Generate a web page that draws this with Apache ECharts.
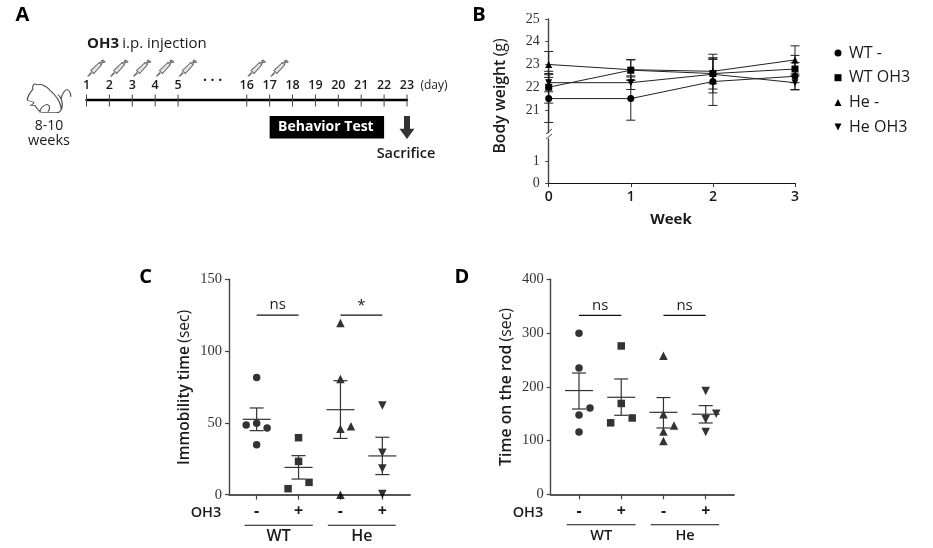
<!DOCTYPE html>
<html><head><meta charset="utf-8">
<style>html,body{margin:0;padding:0;background:#fff}#c{width:933px;height:548px}</style>
<script src="https://cdn.jsdelivr.net/npm/echarts@6/dist/echarts.min.js"></script>
</head><body><div id="c"></div>
<script>
// ---------- Panel A ----------
const dayLabels = ['1','2','3','4','5','','','16','17','18','19','20','21','22','23'];
const injectionDays = ['1','2','3','4','5','16','17'];
const behaviorSpan = ['17','22'];
const sacrificeDay = '23';
// ---------- Panel B ----------
const weeks = [0,1,2,3];
const wtMinusW = [21.5,21.5,22.25,22.48];
const wtOh3W = [22,22.75,22.6,22.8];
const heMinusW = [23,22.77,22.7,23.2];
const heOh3W = [22.2,22.2,22.57,22.2];
const wtMinusErr = [1.05,0.95,1.05,0.6];
const wtOh3Err = [0.7,0.45,0.85,0.6];
const heMinusErr = [0.57,0.45,0.55,0.62];
const heOh3Err = [0.4,0.3,0.65,0.3];
const seriesNames = ['WT -','WT OH3','He -','He OH3'];
// ---------- Panel C ----------
const groupPos = [1,2,3,4];
const signs = ['-','+','-','+'];
const cWtMinus = [81.7,48.5,49.7,46.4,34.8], cWtMinusJ = [0,-0.25,0,0.25,0];
const cWtPlus = [39.7,23.2,8.6,4.2], cWtPlusJ = [0,0,0.25,-0.25];
const cHeMinus = [119.6,80.6,46,47.6,0], cHeMinusJ = [0,0,0,0.25,0];
const cHePlus = [62.2,29.3,18.3,0.5], cHePlusJ = [0,0,0,0];
const cMean = [52.5,19,59.2,27], cTop = [60.4,27.2,79.4,40], cBot = [44.6,10.9,39.2,14];
const cSig = [{from:1,to:2,y:125,text:'ns'},{from:3,to:4,y:125,text:'*'}];
// ---------- Panel D ----------
const dWtMinus = [299.5,235,160.6,147.6,116], dWtMinusJ = [0,0,0.26,0,0];
const dWtPlus = [276,169,142,133], dWtPlusJ = [0,0,0.26,-0.25];
const dHeMinus = [258,149,127.8,117,99], dHeMinusJ = [0,0,0.25,0,0];
const dHePlus = [192,139.5,150,116], dHePlusJ = [0,0,0.25,0];
const dMean = [193,180.5,152.5,149], dTop = [225.7,214.6,180,165], dBot = [158.7,147,123.4,132.7];
const dSig = [{from:1,to:2,y:333,text:'ns'},{from:3,to:4,y:333,text:'ns'}];
const genotypes = [{from:0.71,to:2.34,text:'WT'},{from:2.70,to:4.32,text:'He'}];

const SANS = '"Open Sans","Noto Sans",sans-serif';
const SERIF = '"Liberation Serif",serif';
const DARK = '#1a1a1a', AXIS = '#444';
const DOWN = 'path://M0,0L10,0L5,10Z';
const SYRINGE = 'path://M0,100L17,80L20,83L3,100ZM16,66L60,22L66,16L70,20L84,8L80,4L88,0L100,12L92,16L88,12L76,26L80,30L34,84Z';
const ARROW = 'path://M30,0L70,0L70,55L100,55L50,100L0,55L30,55Z';
const MOUSE = 'path://M27.5,100C29,95 31,93 33,91C32,87 35,85 37,87C41,86 46,88 50,92C56,97 60,102 61,108C61.5,111 59,113 55,112.5L42,112.5C39,112 37,109 35,106L31,106C33,105 34,104 34,103L28,101.5ZM40,112.5C40,109 43,106 47,105C50,106 50,109 48,112M61,100C62,94 66,90 68,92C70,93 70.5,95 70.5,98M58,96C64,102 63,110 58,113';

function pts(x, ys, js){ return ys.map((v,i)=>[x+js[i], v]); }
function scatter(idx, x, ys, js, symbol, rot, size){
  return {type:'scatter', xAxisIndex:idx, yAxisIndex:idx, data:pts(x,ys,js), symbol, symbolRotate:rot, symbolSize:size,
    itemStyle:{color:'#000'}, z:3, silent:true, clip:false};
}
function line(x1,y1,x2,y2,w,c){ return {type:'line', shape:{x1,y1,x2,y2}, style:{stroke:c||DARK, lineWidth:w||1}}; }

// mean ± SEM marks
function meanErr(idx, mean, top, bot){
  return {type:'custom', xAxisIndex:idx, yAxisIndex:idx, silent:true, z:4, clip:false,
    data: groupPos.map((p,i)=>[p,mean[i],top[i],bot[i]]),
    renderItem(params, api){
      const x=api.value(0);
      const m=api.coord([x,api.value(1)]), t=api.coord([x,api.value(2)]), b=api.coord([x,api.value(3)]);
      const col='#333';
      return {type:'group', children:[
        line(m[0]-14,m[1],m[0]+14,m[1],1.2,col), line(t[0],t[1],b[0],b[1],1.2,col),
        line(t[0]-7,t[1],t[0]+7,t[1],1.2,col), line(b[0]-7,b[1],b[0]+7,b[1],1.2,col)
      ]};
    }};
}
// significance brackets
function sigMarks(idx, sig){
  return {type:'custom', xAxisIndex:idx, yAxisIndex:idx, silent:true, z:4, clip:false,
    data: sig.map(s=>[s.from,s.to,s.y]),
    renderItem(params, api){
      const s=sig[params.dataIndex];
      const a=api.coord([s.from,s.y]), b=api.coord([s.to,s.y]);
      return {type:'group', children:[
        line(a[0],a[1],b[0],b[1],1.2,'#111'),
        {type:'text', x:(a[0]+b[0])/2, y:a[1]-(s.text==='*'?9:10), style:{text:s.text, font:'15px '+SANS, fill:'#222', align:'center', verticalAlign:'middle'}}
      ]};
    }};
}
// genotype underlines below the axis
function genoMarks(idx, labelSize){
  return {type:'custom', xAxisIndex:idx, yAxisIndex:idx, silent:true, z:4, clip:false,
    data: genotypes.map(g=>[g.from,g.to]),
    renderItem(params, api){
      const g=genotypes[params.dataIndex];
      const a=api.coord([g.from,0]), b=api.coord([g.to,0]);
      return {type:'group', children:[
        line(a[0],a[1]+30.5,b[0],b[1]+30.5,1.1,'#111'),
        {type:'text', x:(a[0]+b[0])/2, y:a[1]+42, style:{text:g.text, font:'600 '+labelSize+'px '+SANS, fill:DARK, align:'center', verticalAlign:'middle'}}
      ]};
    }};
}
// error bars for panel B
function weekErr(vals, errs){
  return {type:'custom', xAxisIndex:1, yAxisIndex:1, silent:true, z:2, clip:false,
    data: weeks.map((w,i)=>[w,vals[i],errs[i]]),
    renderItem(params, api){
      const x=api.value(0), v=api.value(1), e=api.value(2);
      const t=api.coord([x,v+e]), b=api.coord([x,v-e]);
      return {type:'group', children:[
        line(t[0],t[1],b[0],b[1],1,'#222'),
        line(t[0]-4.5,t[1],t[0]+4.5,t[1],1,'#222'), line(b[0]-4.5,b[1],b[0]+4.5,b[1],1,'#222')
      ]};
    }};
}
function weekLine(name, vals, symbol, rot, size){
  return {type:'line', name, xAxisIndex:1, yAxisIndex:1, data:weeks.map((w,i)=>[w,vals[i]]), symbol, symbolRotate:rot, symbolSize:size,
    showSymbol:true, lineStyle:{color:'#222', width:1}, itemStyle:{color:'#000'}, silent:true, z:3, clip:false};
}
function valueAxisStyle(){ return {
  axisLine:{show:true, lineStyle:{color:AXIS, width:1.4}},
  axisTick:{show:true, length:4, lineStyle:{color:AXIS, width:1.2}},
  axisLabel:{color:'#333', fontFamily:SERIF, fontSize:14.5, margin:7},
  splitLine:{show:false}
};}
function bAxisTicks(vals){ return {
  axisTick:{show:true,length:3.5,customValues:vals,lineStyle:{color:AXIS}},
  axisLabel:{customValues:vals,color:'#333',fontFamily:SERIF,fontSize:14,margin:9}
};}
function groupXAxis(gridIndex, min, max){ return {
  type:'value', gridIndex, min, max,
  axisLine:{show:true, onZero:true, lineStyle:{color:'#555', width:1.8}},
  axisTick:{show:true, length:5, customValues:groupPos, lineStyle:{color:AXIS, width:1.2}},
  axisLabel:{show:true, customValues:groupPos, formatter:v=>signs[Math.round(v)-1], color:DARK, fontFamily:SANS, fontSize:16, fontWeight:700, margin:9},
  splitLine:{show:false}
};}

function txt(x,y,text,opt){ return {type:'text', x, y, silent:true, rotation:(opt&&opt.rot)||0,
  style:Object.assign({text, fontFamily:SANS, fontSize:14, fill:DARK, align:'center', verticalAlign:'middle'}, opt&&opt.style)}; }
function vtitle(x,y,bold,rest,size){ return {type:'text', x, y, silent:true, rotation:Math.PI/2,
  style:{text:'{b|'+bold+'} {r|'+rest+'}', align:'center', verticalAlign:'middle',
    rich:{b:{fontFamily:SANS,fontSize:size,fontWeight:600,fill:DARK}, r:{fontFamily:SANS,fontSize:size,fill:DARK}}}}; }

const option = {
  animation:false,
  backgroundColor:'#fff',
  legend:{
    left:829.5, top:40, orient:'vertical', itemGap:8.7, itemWidth:7, itemHeight:7, selectedMode:false,
    textStyle:{fontFamily:SANS, fontSize:16, fontWeight:500, color:DARK, padding:[0,0,0,2.5]},
    data:[{name:seriesNames[0],icon:'circle'},{name:seriesNames[1],icon:'rect'},{name:seriesNames[2],icon:'triangle'},{name:seriesNames[3],icon:DOWN}]
  },
  grid:[
    {left:86.5, width:320.5, top:100, height:1},                         // A
    {left:548.7, width:246.3, top:19, height:113.7},                     // B upper
    {left:548.7, width:246.3, top:139, height:44},                       // B lower
    {left:229, width:181, top:279.3, height:215.4},                      // C
    {left:550.7, width:183.3, top:279.3, height:215}                     // D
  ],
  xAxis:[
    {type:'category', gridIndex:0, data:dayLabels, boundaryGap:false, position:'top',
      axisLine:{onZero:false, lineStyle:{color:'#000', width:2.4}}, axisTick:{show:false},
      axisLabel:{interval:0, color:DARK, fontFamily:SANS, fontSize:12.5, fontWeight:600, margin:8}},
    {type:'value', gridIndex:1, min:0, max:3, show:false},
    {type:'value', gridIndex:2, min:0, max:3, interval:1,
      axisLine:{lineStyle:{color:'#111', width:1.2}}, axisTick:{length:4, lineStyle:{color:'#333'}},
      axisLabel:{color:DARK, fontFamily:SANS, fontSize:14, fontWeight:600, margin:7}, splitLine:{show:false}},
    groupXAxis(3,0.34,4.66),
    groupXAxis(4,0.33,4.67)
  ],
  yAxis:[
    {type:'value', gridIndex:0, min:0, max:1, show:false},
    Object.assign(valueAxisStyle(), {type:'value', gridIndex:1, min:20, max:25}, bAxisTicks([21,22,23,24,25])),
    Object.assign(valueAxisStyle(), {type:'value', gridIndex:2, min:0, max:2}, bAxisTicks([0,1])),
    Object.assign(valueAxisStyle(), {type:'value', gridIndex:3, min:0, max:150, interval:50}),
    Object.assign(valueAxisStyle(), {type:'value', gridIndex:4, min:0, max:400, interval:100})
  ],
  series:[
    // A: mouse
    {type:'scatter', xAxisIndex:0, yAxisIndex:0, data:[[dayLabels[0],0.5]], symbol:MOUSE, symbolSize:[43.5,29], symbolOffset:[-37.5,-2],
      itemStyle:{color:'rgba(0,0,0,0)', borderColor:'#222', borderWidth:1}, silent:true, clip:false},
    // A: ticks
    {type:'custom', xAxisIndex:0, yAxisIndex:0, silent:true, z:3, clip:false,
      data:dayLabels.map((d,i)=>[i,0.5]).filter((p,i)=>dayLabels[i]!==''),
      renderItem(params, api){ const c=api.coord([api.value(0),api.value(1)]);
        return line(c[0],c[1]-6,c[0],c[1]+6,1,'#444'); }},
    // A: injections
    {type:'scatter', xAxisIndex:0, yAxisIndex:0, data:injectionDays.map(d=>[d,0.5]), symbol:SYRINGE, symbolSize:[17,16], symbolOffset:[10,-32.5],
      itemStyle:{color:'#ddd', borderColor:'#444', borderWidth:1}, silent:true, clip:false},
    // A: behaviour bar
    {type:'custom', xAxisIndex:0, yAxisIndex:0, silent:true, z:3, clip:false,
      data:[[dayLabels.indexOf(behaviorSpan[0]), dayLabels.indexOf(behaviorSpan[1])]],
      renderItem(params, api){ const a=api.coord([api.value(0),0.5]), b=api.coord([api.value(1),0.5]);
        return {type:'group', children:[
          {type:'rect', shape:{x:a[0],y:a[1]+15.5,width:b[0]-a[0],height:22.5}, style:{fill:'#000'}},
          {type:'text', x:(a[0]+b[0])/2-1, y:a[1]+27, style:{text:'Behavior Test', font:'700 14px '+SANS, fill:'#fff', align:'center', verticalAlign:'middle'}}
        ]}; }},
    // A: sacrifice arrow
    {type:'scatter', xAxisIndex:0, yAxisIndex:0, data:[[sacrificeDay,0.5]], symbol:ARROW, symbolSize:[15,23], symbolOffset:[0,27], itemStyle:{color:'#000'}, silent:true, clip:false},
    // B
    weekErr(wtMinusW,wtMinusErr), weekErr(wtOh3W,wtOh3Err), weekErr(heMinusW,heMinusErr), weekErr(heOh3W,heOh3Err),
    weekLine(seriesNames[0],wtMinusW,'circle',0,7),
    weekLine(seriesNames[1],wtOh3W,'rect',0,7),
    weekLine(seriesNames[2],heMinusW,'triangle',0,7),
    weekLine(seriesNames[3],heOh3W,'triangle',180,7),
    // C
    scatter(3,1,cWtMinus,cWtMinusJ,'circle',0,7.5),
    scatter(3,2,cWtPlus,cWtPlusJ,'rect',0,7.5),
    scatter(3,3,cHeMinus,cHeMinusJ,'triangle',0,8.5),
    scatter(3,4,cHePlus,cHePlusJ,'triangle',180,8.5),
    meanErr(3,cMean,cTop,cBot), sigMarks(3,cSig), genoMarks(3,16),
    // D
    scatter(4,1,dWtMinus,dWtMinusJ,'circle',0,7.5),
    scatter(4,2,dWtPlus,dWtPlusJ,'rect',0,7.5),
    scatter(4,3,dHeMinus,dHeMinusJ,'triangle',0,8.5),
    scatter(4,4,dHePlus,dHePlusJ,'triangle',180,8.5),
    meanErr(4,dMean,dTop,dBot), sigMarks(4,dSig), genoMarks(4,14.5)
  ],
  graphic:[
    txt(22.5,15,'A',{style:{fontSize:20,fontWeight:700,fill:'#000'}}),
    txt(479,15,'B',{style:{fontSize:20,fontWeight:700,fill:'#000'}}),
    txt(145.5,277,'C',{style:{fontSize:20,fontWeight:700,fill:'#000'}}),
    txt(462,277,'D',{style:{fontSize:20,fontWeight:700,fill:'#000'}}),
    {type:'text', x:87, y:44, silent:true, style:{text:'{b|OH3} {r|i.p. injection}', align:'left', verticalAlign:'middle',
      rich:{b:{fontFamily:SANS,fontSize:15,fontWeight:700,fill:DARK}, r:{fontFamily:SANS,fontSize:15,fill:DARK}}}},
    txt(212.5,81,'· · ·',{style:{fontSize:14,fontWeight:700}}),
    txt(434,86,'(day)',{style:{fontSize:12}}),
    txt(49,126,'8-10'),txt(49,141,'weeks',{style:{fontSize:14.5}}),
    txt(406,154,'Sacrifice',{style:{fontSize:14.5,fontWeight:600}}),
    // axis break on panel B
    {type:'line', silent:true, shape:{x1:546,y1:134,x2:552,y2:129}, style:{stroke:'#444',lineWidth:1}},
    {type:'line', silent:true, shape:{x1:546,y1:139,x2:552,y2:134}, style:{stroke:'#444',lineWidth:1}},
    vtitle(500.7,96,'Body weight','(g)',15.8),
    txt(671,220,'Week',{style:{fontSize:15,fontWeight:700}}),
    vtitle(185,387.5,'Immobility time','(sec)',15.5),
    vtitle(506.7,387,'Time on the rod','(sec)',15.8),
    txt(206,512.5,'OH3',{style:{fontSize:14.5,fontWeight:600}}),
    txt(528,512.5,'OH3',{style:{fontSize:14.5,fontWeight:600}})
  ]
};
echarts.init(document.getElementById('c'),null,{renderer:'canvas'}).setOption(option);
</script></body></html>
